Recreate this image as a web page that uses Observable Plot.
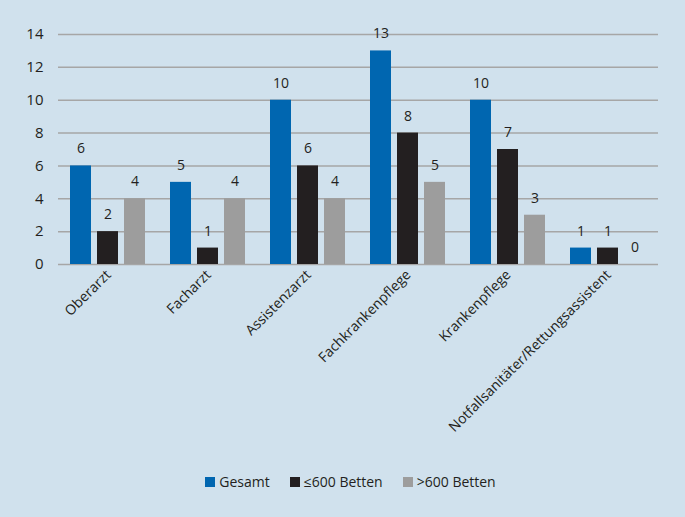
<!DOCTYPE html>
<html><head><meta charset="utf-8">
<script src="https://cdn.jsdelivr.net/npm/d3@7"></script>
<script src="https://cdn.jsdelivr.net/npm/@observablehq/plot@0.6"></script>
<style>
html,body{margin:0;padding:0;background:#d0e1ed;}
body{width:685px;height:517px;overflow:hidden;font-family:"Open Sans",sans-serif;color:#231f20;}
#legend{display:flex;justify-content:center;gap:20px;font-size:14px;margin-top:12px;padding-left:16px;}
#legend span{display:inline-flex;align-items:center;gap:4px;}
#legend i{display:inline-block;width:10px;height:10px;}
</style></head><body>
<div id="chart"></div>
<div id="legend"></div>
<script>
const categories = ["Oberarzt","Facharzt","Assistenzarzt","Fachkrankenpflege","Krankenpflege","Notfallsanitäter/Rettungsassistent"];
const series = ["Gesamt","≤600 Betten",">600 Betten"];
const gesamt = [6,5,10,13,10,1];
const klein = [2,1,6,8,7,1];
const gross = [4,4,4,5,3,0];
const yTicks = [0,2,4,6,8,10,12,14];
const colors = ["#0066b0","#231f20","#9d9d9d"];

const rows = [];
categories.forEach((c,i)=>{
  [gesamt,klein,gross].forEach((arr,j)=>rows.push({cat:c, series:series[j], value:arr[i]}));
});

const chart = Plot.plot({
  width:685, height:460,
  marginLeft:56, marginRight:25, marginTop:34, marginBottom:196,
  style:{background:"transparent", fontFamily:"'Open Sans', sans-serif", fontSize:"14px", color:"#231f20"},
  fx:{domain:categories, paddingInner:0, paddingOuter:0, label:null},
  x:{domain:series, paddingInner:0.214, paddingOuter:0.405, axis:null},
  y:{domain:[0,14], ticks:yTicks, label:null},
  color:{domain:series, range:colors},
  marks:[
    Plot.ruleY(yTicks,{stroke:"#a6a6a6", strokeWidth:1.5}),
    Plot.axisY({ticks:yTicks, tickSize:0, tickPadding:15, fontSize:15, label:null}),
    Plot.axisFx({anchor:"bottom", tickRotate:-45, tickSize:0, tickPadding:8, fontSize:14, label:null}),
    Plot.barY(rows,{fx:"cat", x:"series", y:"value", fill:"series"}),
    Plot.text(rows,{fx:"cat", x:"series", y:"value", text:d=>String(d.value), dy:-17, fontSize:14, fill:"#231f20"})
  ]
});
document.getElementById("chart").appendChild(chart);
const lg = document.getElementById("legend");
series.forEach((s,i)=>{
  const sp=document.createElement("span");
  sp.innerHTML=`<i style="background:${colors[i]}"></i>${s}`;
  lg.appendChild(sp);
});
</script>
</body></html>
